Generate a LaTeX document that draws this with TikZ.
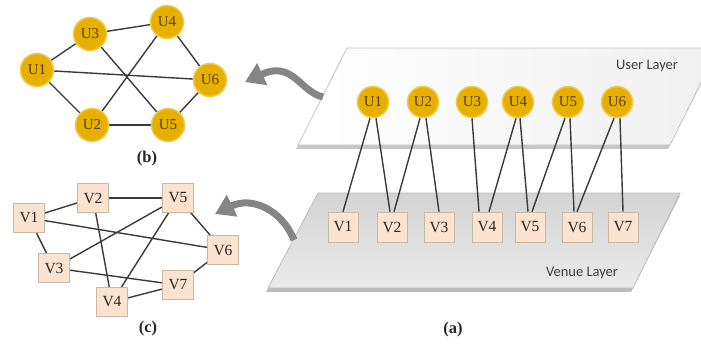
\documentclass[tikz,border=0pt]{standalone}
\usepackage{fontspec}
\setmainfont{Liberation Serif}
\newfontfamily\layerfont{Carlito}
\usetikzlibrary{arrows.meta}
\definecolor{ufill}{HTML}{E6B000}
\definecolor{uborder}{HTML}{F4C84A}
\definecolor{utext}{HTML}{5A3C00}
\definecolor{vfill}{HTML}{FBE3CF}
\definecolor{vborder}{HTML}{C9B8A6}
\definecolor{edgecol}{HTML}{3A3A3A}
\definecolor{arrowcol}{HTML}{858585}
\pgfdeclarelayer{bg}
\pgfdeclarelayer{back}
\pgfsetlayers{back,bg,main}
\tikzset{
  unode/.style={circle, fill=ufill, draw=uborder, line width=1.5pt, minimum size=31pt, inner sep=0pt, text=utext, font=\fontsize{15}{15}\selectfont},
  vnode/.style={rectangle, fill=vfill, draw=vborder, line width=0.6pt, minimum width=30pt, minimum height=30pt, inner sep=0pt, text=black!85, font=\fontsize{15.5}{15.5}\selectfont},
  link/.style={draw=edgecol, line width=1.4pt},
  bigarrow/.style={draw=arrowcol, line width=7pt, -{Triangle[width=23pt,length=19pt]}},
  caption/.style={font=\bfseries\fontsize{16.5}{16.5}\selectfont, text=black!85},
  layerlabel/.style={font=\layerfont\fontsize{14.5}{14.5}\selectfont, text=black!75},
}
\begin{document}
\begin{tikzpicture}[x=1pt,y=-1pt]
\useasboundingbox (0,0) rectangle (701,344);
\clip (0,0) rectangle (701,344);
% layers
\begin{pgfonlayer}{back}
\fill[black!22] (296,149) -- (345,51) -- (718,51) -- (668,149) -- cycle;
\shade[left color=white, right color=black!6, draw=black!22, line width=0.8pt] (298,145) -- (347,48) -- (718,48) -- (670,145) -- cycle;
\fill[black!26] (266,292) -- (316,196) -- (680,196) -- (631,292) -- cycle;
\shade[top color=black!17, bottom color=black!8, draw=black!25, line width=0.8pt] (268,288) -- (318,193) -- (680,193) -- (633,288) -- cycle;
\end{pgfonlayer}
\node[layerlabel] (ul) at (647,66) {User Layer};
\node[layerlabel] (vl) at (582,273) {Venue Layer};
% (a) nodes
\node[unode] (aU1) at (373,102) {U1};
\node[unode] (aU2) at (423,102) {U2};
\node[unode] (aU3) at (472,102) {U3};
\node[unode] (aU4) at (518,102) {U4};
\node[unode] (aU5) at (568,102) {U5};
\node[unode] (aU6) at (617,102) {U6};
\node[vnode] (aV1) at (343,227) {V1};
\node[vnode] (aV2) at (392,227) {V2};
\node[vnode] (aV3) at (439,227) {V3};
\node[vnode] (aV4) at (487,227) {V4};
\node[vnode] (aV5) at (530,227) {V5};
\node[vnode] (aV6) at (577,227) {V6};
\node[vnode] (aV7) at (623,227) {V7};
\begin{pgfonlayer}{bg}
\draw[link] ([xshift=-3pt]aU1.south) -- (aV1.north);
\draw[link] ([xshift=3pt]aU1.south) -- ([xshift=-2pt]aV2.north);
\draw[link] ([xshift=-3pt]aU2.south) -- ([xshift=2pt]aV2.north);
\draw[link] ([xshift=3pt]aU2.south) -- (aV3.north);
\draw[link] (aU3.south) -- ([xshift=-8pt]aV4.north);
\draw[link] ([xshift=-2pt]aU4.south) -- ([xshift=2pt]aV4.north);
\draw[link] ([xshift=2pt]aU4.south) -- ([xshift=-2pt]aV5.north);
\draw[link] ([xshift=-3pt]aU5.south) -- ([xshift=2pt]aV5.north);
\draw[link] ([xshift=2pt]aU5.south) -- ([xshift=-3pt]aV6.north);
\draw[link] ([xshift=-3pt]aU6.south) -- ([xshift=0pt]aV6.north);
\draw[link] ([xshift=3pt]aU6.south) -- ([xshift=0pt]aV7.north);
\end{pgfonlayer}
% (b)
\node[unode, minimum size=33pt] (bU1) at (37,70) {U1};
\node[unode, minimum size=33pt] (bU3) at (90,34) {U3};
\node[unode, minimum size=33pt] (bU4) at (167,22) {U4};
\node[unode, minimum size=33pt] (bU6) at (210,80) {U6};
\node[unode, minimum size=33pt] (bU2) at (92,125) {U2};
\node[unode, minimum size=33pt] (bU5) at (168,125) {U5};
\begin{pgfonlayer}{bg}
\draw[link] (bU1) -- (bU3);
\draw[link] (bU1) -- (bU2);
\draw[link] (bU1) -- (bU6);
\draw[link] (bU3) -- (bU4);
\draw[link] (bU3) -- (bU5);
\draw[link] (bU2) -- (bU4);
\draw[link] (bU2) -- (bU5);
\draw[link] (bU4) -- (bU6);
\draw[link] (bU5) -- (bU6);
\end{pgfonlayer}
\node[caption] (capb) at (147,159) {(b)};
% (c)
\node[vnode, minimum width=31pt, minimum height=29pt] (cV1) at (29,218) {V1};
\node[vnode, minimum width=31pt, minimum height=29pt] (cV2) at (93,198) {V2};
\node[vnode, minimum width=31pt, minimum height=29pt] (cV5) at (178,198) {V5};
\node[vnode, minimum width=31pt, minimum height=29pt] (cV6) at (223,250) {V6};
\node[vnode, minimum width=31pt, minimum height=29pt] (cV3) at (54,268) {V3};
\node[vnode, minimum width=31pt, minimum height=29pt] (cV7) at (178,285) {V7};
\node[vnode, minimum width=31pt, minimum height=29pt] (cV4) at (112,302) {V4};
\begin{pgfonlayer}{bg}
\draw[link] (cV1) -- (cV2);
\draw[link] (cV1) -- (cV3);
\draw[link] (cV1) -- (cV6);
\draw[link] (cV2) -- (cV5);
\draw[link] (cV2) -- (cV4);
\draw[link] (cV5) -- (cV3);
\draw[link] (cV5) -- (cV4);
\draw[link] (cV5) -- (cV6);
\draw[link] (cV3) -- (cV7);
\draw[link] (cV6) -- (cV7);
\draw[link] (cV4) -- (cV7);
\end{pgfonlayer}
\node[caption] (capc) at (148,329) {(c)};
\node[caption] (capa) at (453,330) {(a)};
% arrows
\coordinate (a1s) at (323,97);
\coordinate (a1e) at (245,82);
\coordinate (a2s) at (294,240);
\coordinate (a2e) at (215,214);
\draw[bigarrow] (a1s) .. controls (300,92) and (293,60) .. (a1e);
\draw[bigarrow] (a2s) .. controls (282,210) and (252,196) .. (a2e);
\end{tikzpicture}
\end{document}
